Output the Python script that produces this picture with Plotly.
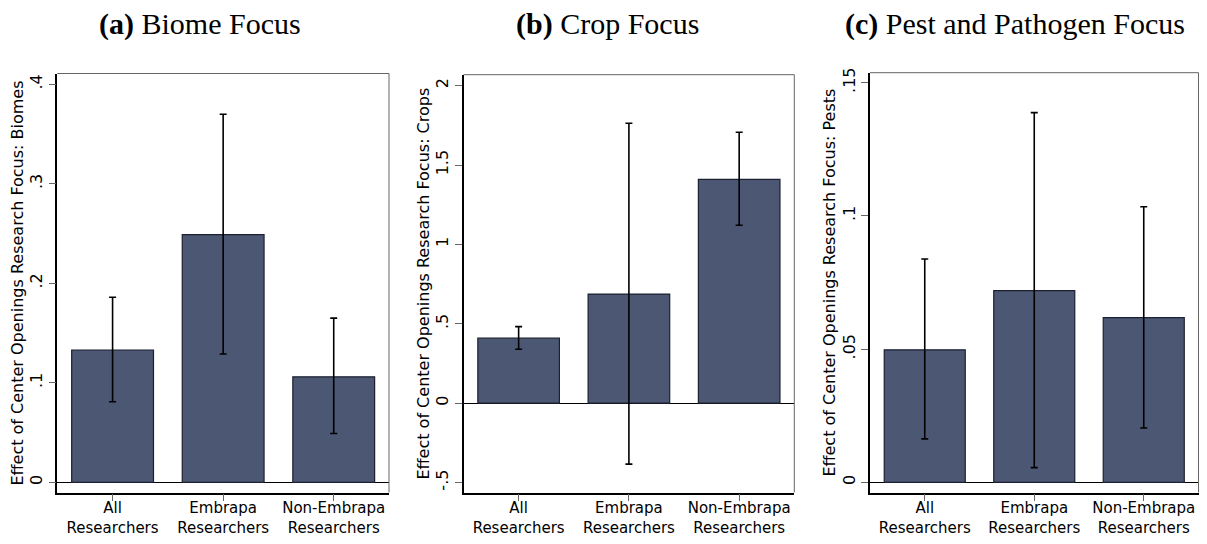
# -*- coding: utf-8 -*-
"""
Effect of center openings on research focus: three bar panels with 95% CIs
"""

import plotly.graph_objects as go

###################
# Data            #
###################

categories = ["All Researchers", "Embrapa Researchers", "Non-Embrapa Researchers"]
cat_labels = ["All<br>Researchers", "Embrapa<br>Researchers", "Non-Embrapa<br>Researchers"]

panel_titles = ["<b>(a)</b> Biome Focus", "<b>(b)</b> Crop Focus", "<b>(c)</b> Pest and Pathogen Focus"]
y_titles = ["Effect of Center Openings Research Focus: Biomes",
            "Effect of Center Openings Research Focus: Crops",
            "Effect of Center Openings Research Focus: Pests"]

# (a) biomes
biome_est = [0.133, 0.249, 0.106]
biome_lo = [0.081, 0.129, 0.049]
biome_hi = [0.186, 0.370, 0.165]
biome_ticks = [0, 0.1, 0.2, 0.3, 0.4]
biome_ticktext = ["0", ".1", ".2", ".3", ".4"]

# (b) crops
crop_est = [0.409, 0.687, 1.41]
crop_lo = [0.339, -0.384, 1.121]
crop_hi = [0.482, 1.763, 1.706]
crop_ticks = [-0.5, 0, 0.5, 1, 1.5, 2]
crop_ticktext = ["-.5", "0", ".5", "1", "1.5", "2"]

# (c) pests
pest_est = [0.0497, 0.0719, 0.0618]
pest_lo = [0.0163, 0.0055, 0.0204]
pest_hi = [0.0838, 0.1387, 0.1034]
pest_ticks = [0, 0.05, 0.1, 0.15]
pest_ticktext = ["0", ".05", ".1", ".15"]

###################
# Layout settings #
###################

# the page body has an 8px margin all round; keep the figure inside the
# 1207x544 window so no scrollbars appear. Positions below are window pixels.
PAGE_OFF = 8
W, H = 1207 - 2 * PAGE_OFF, 544 - 2 * PAGE_OFF


def px_x(x):
    return (x - PAGE_OFF) / W


def px_y(y):
    return 1 - (y - PAGE_OFF) / H


BAR_COLOR = "#4b5773"
SANS = "DejaVu Sans, Arial, sans-serif"
SERIF = "Liberation Serif, Times New Roman, serif"

panels = [
    dict(est=biome_est, lo=biome_lo, hi=biome_hi, ticks=biome_ticks, ticktext=biome_ticktext,
         yrange=[-0.01025, 0.4109], xdom=[57.3, 389.0], top=73.5, title_x=200),
    dict(est=crop_est, lo=crop_lo, hi=crop_hi, ticks=crop_ticks, ticktext=crop_ticktext,
         yrange=[-0.563, 2.069], xdom=[463.5, 794.3], top=74.7, title_x=607.5),
    dict(est=pest_est, lo=pest_lo, hi=pest_hi, ticks=pest_ticks, ticktext=pest_ticktext,
         yrange=[-0.00383, 0.1537], xdom=[870.0, 1198.5], top=72.7, title_x=1015),
]
BOTTOM = 492.5

fig = go.Figure()
annotations = []
shapes = []

for i, p in enumerate(panels):
    n = "" if i == 0 else str(i + 1)
    xa, ya = "x" + n, "y" + n

    fig.add_trace(go.Bar(
        x=categories, y=p["est"],
        xaxis=xa, yaxis=ya,
        width=0.74,
        marker=dict(color=BAR_COLOR, line=dict(color="#1c2030", width=1.2)),
        error_y=dict(type="data", symmetric=False,
                     array=[h - e for h, e in zip(p["hi"], p["est"])],
                     arrayminus=[e - l for e, l in zip(p["est"], p["lo"])],
                     color="black", thickness=1.6, width=3.5),
        showlegend=False,
    ))

    fig.layout["xaxis" + n] = dict(
        domain=[px_x(p["xdom"][0]), px_x(p["xdom"][1])],
        anchor=ya, type="category",
        range=[-0.5, 2.5],
        tickvals=categories, ticktext=cat_labels,
        ticks="outside", ticklen=7, tickcolor="#666", tickwidth=1,
        ticklabelstandoff=-6,
        tickfont=dict(family=SANS, size=15, color="black"),
        showline=True, linecolor="black", linewidth=1.5,
        showgrid=False, zeroline=False, fixedrange=True,
        automargin=False,
    )
    fig.layout["yaxis" + n] = dict(
        domain=[px_y(BOTTOM), px_y(p["top"])],
        anchor=xa,
        range=p["yrange"],
        tickvals=p["ticks"], ticktext=p["ticktext"],
        tickangle=-90,
        ticks="outside", ticklen=7, tickcolor="#666", tickwidth=1,
        tickfont=dict(family=SANS, size=16, color="black"),
        showline=True, linecolor="black", linewidth=1.5,
        showgrid=False,
        zeroline=True, zerolinecolor="black", zerolinewidth=1.3,
        title=dict(text=y_titles[i], font=dict(family=SANS, size=16, color="black"), standoff=0),
        fixedrange=True,
        automargin=False,
    )

    # light top/right edges of the plot box
    shapes.append(dict(type="line", xref=xa + " domain", yref=ya + " domain",
                       x0=0, x1=1, y0=1, y1=1, line=dict(color="#666", width=1)))
    shapes.append(dict(type="line", xref=xa + " domain", yref=ya + " domain",
                       x0=1, x1=1, y0=0, y1=1, line=dict(color="#666", width=1)))

    annotations.append(dict(
        text=panel_titles[i], xref="paper", yref="paper",
        x=px_x(p["title_x"]), y=px_y(24), xanchor="center", yanchor="middle",
        showarrow=False, font=dict(family=SERIF, size=30, color="black"),
    ))

fig.update_layout(
    width=W, height=H,
    margin=dict(l=0, r=0, t=0, b=0, autoexpand=False),
    paper_bgcolor="white", plot_bgcolor="white",
    annotations=annotations, shapes=shapes,
    showlegend=False,
)

fig.write_html("out.html")
